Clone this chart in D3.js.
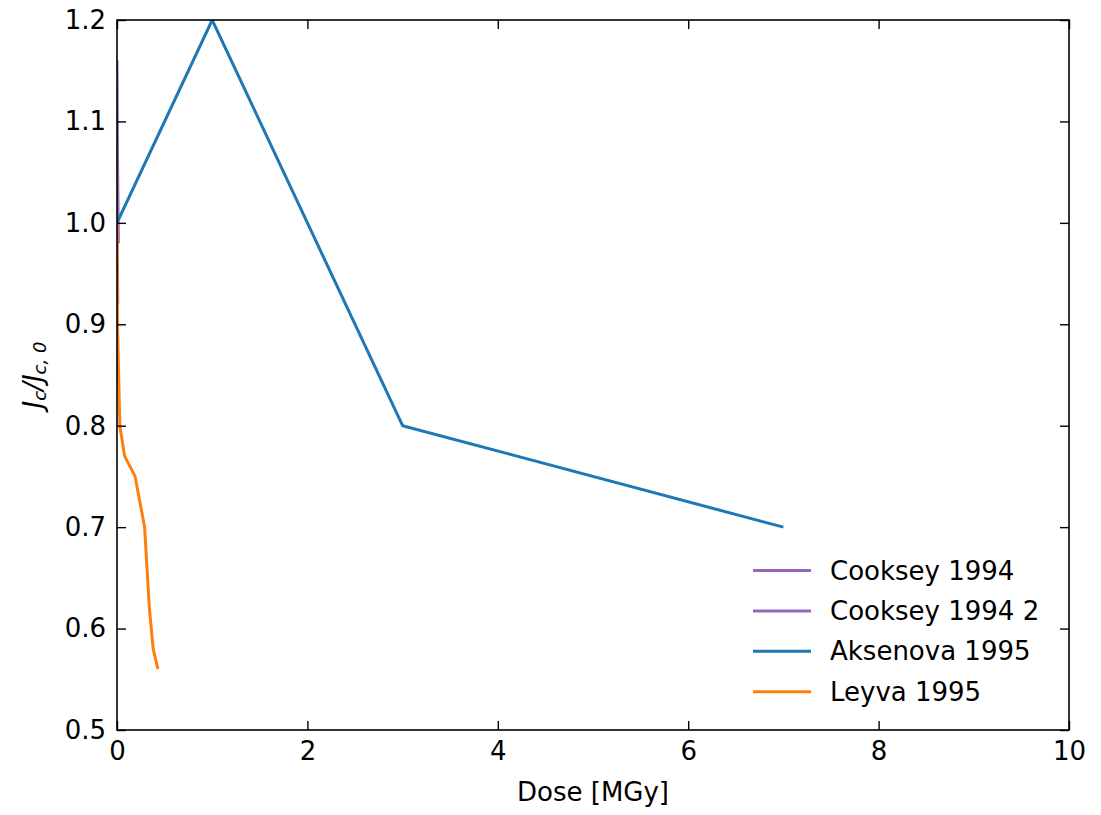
<!DOCTYPE html>
<html>
<head>
<meta charset="utf-8">
<script src="https://cdn.jsdelivr.net/npm/d3@7"></script>
<style>
  body { margin: 0; background: #fff; }
  svg { font-family: "DejaVu Sans", sans-serif; }
</style>
</head>
<body>
<svg id="chart" width="1101" height="815"></svg>
<script>
// Critical current retention vs. irradiation dose
const cookseyDose  = [0, 0.002, 0.005, 0.01, 0.015];
const cookseyJc    = [1.16, 1.12, 1.07, 1.02, 0.98];
const cooksey2Dose = [0, 0.004, 0.008];
const cooksey2Jc   = [1.0, 0.96, 0.92];
const aksenovaDose = [0, 1, 3, 7];
const aksenovaJc   = [1.0, 1.2, 0.8, 0.7];
const leyvaDose    = [0, 0.005, 0.03, 0.08, 0.19, 0.29, 0.34, 0.38, 0.43];
const leyvaJc      = [1.0, 0.9, 0.8, 0.77, 0.75, 0.70, 0.62, 0.58, 0.56];
const xTicks = [0, 2, 4, 6, 8, 10];
const yTicks = [0.5, 0.6, 0.7, 0.8, 0.9, 1.0, 1.1, 1.2];

const series = [
  { name: "Cooksey 1994",   x: cookseyDose,  y: cookseyJc,  color: "#9467bd" },
  { name: "Cooksey 1994 2", x: cooksey2Dose, y: cooksey2Jc, color: "#9467bd" },
  { name: "Aksenova 1995",  x: aksenovaDose, y: aksenovaJc, color: "#1f77b4" },
  { name: "Leyva 1995",     x: leyvaDose,    y: leyvaJc,    color: "#ff7f0e" }
];

const svg = d3.select("#chart");
const pL = 117, pR = 1069, pT = 20, pB = 730;

const x = d3.scaleLinear().domain([0, 10]).range([pL, pR]);
const y = d3.scaleLinear().domain([0.5, 1.2]).range([pB, pT]);

const fs = 26;

// clipped plot region
svg.append("defs").append("clipPath").attr("id", "plotclip")
  .append("rect").attr("x", pL).attr("y", pT)
  .attr("width", pR - pL).attr("height", pB - pT);

const line = d3.line().x(d => x(d[0])).y(d => y(d[1]));
const g = svg.append("g").attr("clip-path", "url(#plotclip)");
series.forEach(s => {
  g.append("path")
    .datum(s.x.map((v, i) => [v, s.y[i]]))
    .attr("d", line)
    .attr("fill", "none")
    .attr("stroke", s.color)
    .attr("stroke-width", 3)
    .attr("stroke-linejoin", "round");
});

// axes with inward ticks on all sides
function styleAxis(sel) {
  sel.select(".domain").remove();
  sel.selectAll(".tick line").attr("stroke", "#000").attr("stroke-width", 1.4);
  sel.selectAll(".tick text").attr("fill", "#000").style("font-size", fs + "px")
    .style("font-family", "DejaVu Sans, sans-serif");
}
svg.append("g").attr("transform", `translate(0,${pB})`)
  .call(d3.axisBottom(x).tickValues(xTicks).tickFormat(d3.format("d")).tickSizeInner(-9).tickPadding(12))
  .call(styleAxis);
svg.append("g").attr("transform", `translate(0,${pT})`)
  .call(d3.axisTop(x).tickValues(xTicks).tickFormat("").tickSizeInner(-9))
  .call(styleAxis);
svg.append("g").attr("transform", `translate(${pL},0)`)
  .call(d3.axisLeft(y).tickValues(yTicks).tickFormat(d3.format(".1f")).tickSizeInner(-9).tickPadding(11))
  .call(styleAxis);
svg.append("g").attr("transform", `translate(${pR},0)`)
  .call(d3.axisRight(y).tickValues(yTicks).tickFormat("").tickSizeInner(-9))
  .call(styleAxis);

svg.append("rect").attr("x", pL).attr("y", pT)
  .attr("width", pR - pL).attr("height", pB - pT)
  .attr("fill", "none").attr("stroke", "#000").attr("stroke-width", 1.6);

// axis labels
svg.append("text").attr("x", (pL + pR) / 2).attr("y", 801)
  .attr("text-anchor", "middle").style("font-size", fs + "px").text("Dose [MGy]");

const yl = svg.append("text")
  .attr("transform", `translate(42,${(pT + pB) / 2}) rotate(-90)`)
  .attr("text-anchor", "middle").style("font-size", fs + "px")
  .style("font-style", "italic");
yl.append("tspan").text("J");
yl.append("tspan").attr("dy", 4).style("font-size", "18px").text("c");
yl.append("tspan").attr("dy", -4).text("/J");
yl.append("tspan").attr("dy", 4).style("font-size", "18px").text("c, 0");

// legend
const lg = svg.append("g");
series.forEach((s, i) => {
  const yy = 570.5 + i * 40.4;
  lg.append("line").attr("x1", 753).attr("x2", 811).attr("y1", yy).attr("y2", yy)
    .attr("stroke", s.color).attr("stroke-width", 3);
  lg.append("text").attr("x", 830).attr("y", yy).attr("dy", "0.35em")
    .style("font-size", fs + "px").attr("fill", "#000").text(s.name);
});
</script>
</body>
</html>
